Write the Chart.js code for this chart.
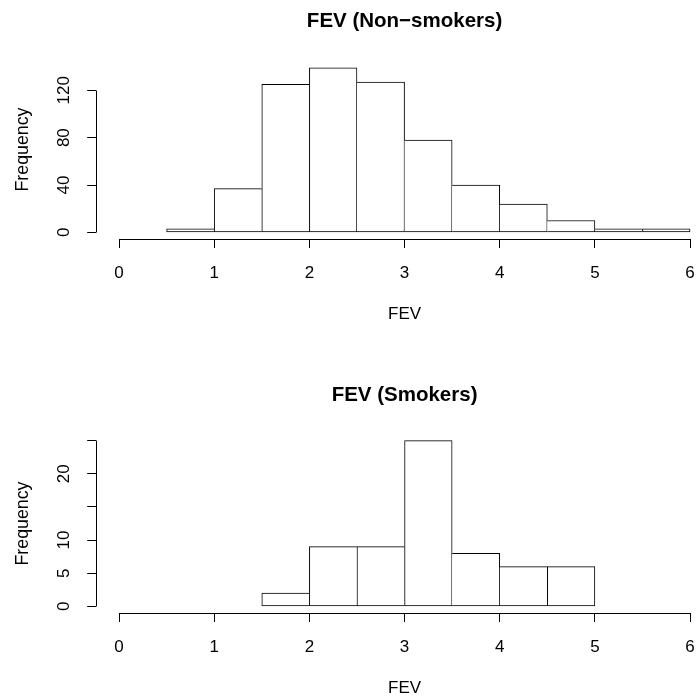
<!DOCTYPE html>
<html>
<head>
<meta charset="utf-8">
<title>FEV histograms</title>
<script src="https://cdn.jsdelivr.net/npm/chart.js@4"></script>
<style>
  html, body { margin: 0; padding: 0; background: #fff; overflow: hidden; }
  #wrap { position: relative; width: 696px; height: 700px; overflow: hidden; }
  canvas { position: absolute; left: 0; }
</style>
</head>
<body>
<div id="wrap">
  <canvas id="nonSmokers" width="720" height="326" style="top:0"></canvas>
  <canvas id="smokers" width="720" height="326" style="top:374px"></canvas>
</div>
<script>
// histogram bins are 0.5 wide
var nonSmokerEdges = [0.5, 1, 1.5, 2, 2.5, 3, 3.5, 4, 4.5, 5, 5.5, 6];
var nonSmokerCounts = [3, 37, 125, 139, 127, 78, 40, 24, 10, 3, 3];
var smokerEdges = [1.5, 2, 2.5, 3, 3.5, 4, 4.5, 5];
var smokerCounts = [2, 9, 9, 25, 8, 6, 6];

var xTicks = [0, 1, 2, 3, 4, 5, 6];
var xLabels = ['0', '1', '2', '3', '4', '5', '6'];
var nonSmokerYTicks = [0, 20, 40, 60, 80, 100, 120, 140];
var nonSmokerYLabels = ['0', '', '40', '', '80', '', '120', ''];
var smokerYTicks = [0, 5, 10, 15, 20, 25];
var smokerYLabels = ['0', '5', '10', '', '20', ''];

Chart.defaults.font.family = '"Liberation Sans", Arial, Helvetica, sans-serif';
Chart.defaults.font.size = 17;
Chart.defaults.color = '#000';

function toPoints(edges, counts) {
  return counts.map(function (c, i) {
    return { x: (edges[i] + edges[i + 1]) / 2, y: c };
  });
}

// draw each shared edge only once, on the taller bar
function barEdges(counts) {
  return function (ctx) {
    var i = ctx.dataIndex, c = counts[i];
    var prev = i > 0 ? counts[i - 1] : 0;
    var next = i < counts.length - 1 ? counts[i + 1] : 0;
    return { top: 1, bottom: 1, left: c >= prev ? 1 : 0, right: c > next ? 1 : 0 };
  };
}

function align(p) { return Math.round(p - 0.5) + 0.5; }

// R style axis lines: only from first to last tick
var rAxes = {
  id: 'rAxes',
  afterDraw: function (chart) {
    var c = chart.ctx, xs = chart.scales.x, ys = chart.scales.y;
    var xt = xs.ticks, yt = ys.ticks;
    var by = align(chart.chartArea.bottom);
    var lx = align(chart.chartArea.left);
    c.save();
    c.strokeStyle = '#000';
    c.lineWidth = 1;
    c.beginPath();
    c.moveTo(align(xs.getPixelForValue(xt[0].value)), by);
    c.lineTo(align(xs.getPixelForValue(xt[xt.length - 1].value)), by);
    c.moveTo(lx, align(ys.getPixelForValue(yt[0].value)));
    c.lineTo(lx, align(ys.getPixelForValue(yt[yt.length - 1].value)));
    c.stroke();
    c.restore();
  }
};

function histogram(id, title, edges, counts, yMin, yMax, yTicks, yLabels, yPad) {
  new Chart(document.getElementById(id), {
    type: 'bar',
    data: {
      datasets: [{
        data: toPoints(edges, counts),
        backgroundColor: '#fff',
        borderColor: '#000',
        borderWidth: barEdges(counts),
        borderSkipped: false,
        barPercentage: 1,
        categoryPercentage: 1
      }]
    },
    plugins: [rAxes],
    options: {
      responsive: false,
      animation: false,
      layout: { padding: { left: 0, right: 7.1, top: 0, bottom: 0 } },
      plugins: {
        legend: { display: false },
        tooltip: { enabled: false },
        title: {
          display: true,
          text: title,
          fullSize: false,
          font: { size: 20.5, weight: 'bold' },
          padding: { top: 8.7, bottom: 26.7 }
        }
      },
      scales: {
        x: {
          type: 'linear',
          min: -0.24,
          max: 6.24,
          offset: false,
          afterBuildTicks: function (s) { s.ticks = xTicks.map(function (v) { return { value: v }; }); },
          afterFit: function (s) { s.height = 87; },
          ticks: {
            padding: 15,
            maxRotation: 0,
            callback: function (v, i) { return xLabels[i]; }
          },
          grid: { drawOnChartArea: false, drawTicks: true, tickLength: 9, color: '#000', offset: false },
          border: { display: false },
          title: { display: true, text: 'FEV', padding: { top: 0, bottom: 1.8 } }
        },
        y: {
          min: yMin,
          max: yMax,
          afterBuildTicks: function (s) { s.ticks = yTicks.map(function (v) { return { value: v }; }); },
          afterFit: function (s) { s.width = 96.2; },
          ticks: {
            padding: yPad,
            minRotation: 90,
            maxRotation: 90,
            crossAlign: 'center',
            callback: function (v, i) { return yLabels[i]; }
          },
          grid: { drawOnChartArea: false, drawTicks: true, tickLength: 9, color: '#000' },
          border: { display: false },
          title: { display: true, text: 'Frequency', font: { size: 17.8 }, padding: { top: 12.3, bottom: 0 } }
        }
      }
    }
  });
}

histogram('nonSmokers', 'FEV (Non\u2212smokers)', nonSmokerEdges, nonSmokerCounts,
  -5.6, 145.6, nonSmokerYTicks, nonSmokerYLabels, 9);
histogram('smokers', 'FEV (Smokers)', smokerEdges, smokerCounts,
  -1, 26, smokerYTicks, smokerYLabels, 13.2);
</script>
</body>
</html>
